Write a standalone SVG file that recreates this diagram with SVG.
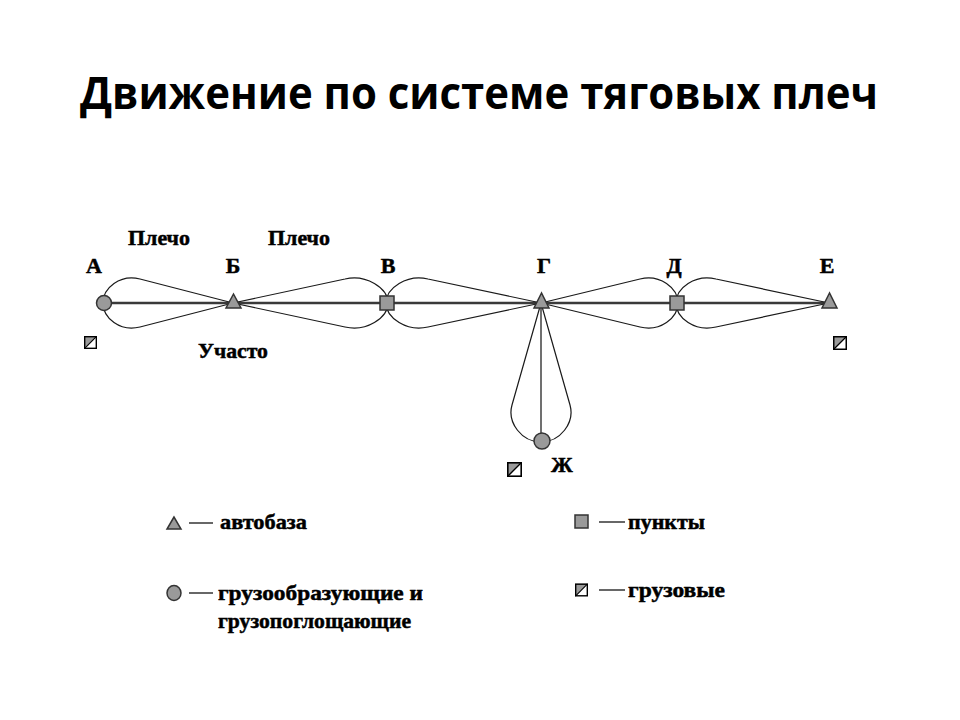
<svg xmlns="http://www.w3.org/2000/svg" xmlns:xlink="http://www.w3.org/1999/xlink" width="960" height="720" viewBox="0 0 960 720">
<style>
.title{font-family:"Open Sans","Noto Sans",sans-serif;font-weight:bold;font-size:45px;fill:#000}
.lbl{font-family:"Liberation Serif","DejaVu Serif",serif;font-weight:bold;font-size:22px;fill:#000;stroke:#000;stroke-width:0.5}
.leg{font-family:"Liberation Serif","DejaVu Serif",serif;font-weight:bold;font-size:22px;fill:#000;stroke:#000;stroke-width:0.5}
.main{stroke:#3a3a3a;stroke-width:2.5;fill:none}
.spur{stroke:#707070;stroke-width:2;fill:none}
.loop{stroke:#1a1a1a;stroke-width:1.2;fill:none}
.node{fill:#9a9a9a;stroke:#333;stroke-width:1.5}
.dash{stroke:#000;stroke-width:1.2}
</style>
<defs>
<symbol id="cargo" viewBox="0 0 14 14">
<rect x="0" y="0" width="14" height="14" fill="#fff"/>
<polygon points="0,0 14,0 0,14" fill="#9a9a9a"/>
<line x1="0.5" y1="13.5" x2="13.5" y2="0.5" stroke="#000" stroke-width="1.2"/>
<rect x="0.75" y="0.75" width="12.5" height="12.5" fill="none" stroke="#000" stroke-width="1.5"/>
</symbol>
</defs>
<rect width="960" height="720" fill="#fff"/>
<text class="title" x="80" y="109" textLength="798" lengthAdjust="spacingAndGlyphs">Движение по системе тяговых плеч</text>

<g id="connectors">
<line class="main" x1="104" y1="303" x2="829" y2="303"/>
<line class="spur" x1="541" y1="303" x2="541" y2="441"/>
<path class="loop" d="M233,303 L140,279 C120,274 103,288 103,303 C103,318 120,332 140,327 Z"/>
<path class="loop" d="M233,303 L345,279 C366,274 388,288 388,303 C388,318 366,332 345,327 Z"/>
<path class="loop" d="M541,303 L428,279 C407,274 386,288 386,303 C386,318 407,332 428,327 Z"/>
<path class="loop" d="M541,303 L640,279 C660,274 678,288 678,303 C678,318 660,332 640,327 Z"/>
<path class="loop" d="M829,303 L716,279 C695,274 676,288 676,303 C676,318 695,332 716,327 Z"/>
<path class="loop" d="M541,303 L512,405 C507,423 522,442 541,442 C560,442 575,423 570,405 Z"/>
</g>

<g id="node-A"><circle class="node" cx="104" cy="303" r="7.5"/><text class="lbl" x="94" y="273" text-anchor="middle">А</text><use xlink:href="#cargo" x="84" y="336" width="13" height="13"/></g>
<g id="node-B"><polygon class="node" points="233.5,294 226,308 241,308"/><text class="lbl" x="233" y="273" text-anchor="middle">Б</text></g>
<g id="node-V"><rect class="node" x="380" y="296" width="14" height="14"/><text class="lbl" x="388" y="273" text-anchor="middle">В</text></g>
<g id="node-G"><polygon class="node" points="541.5,293 534,308 549,308"/><text class="lbl" x="544" y="273" text-anchor="middle">Г</text></g>
<g id="node-D"><rect class="node" x="670" y="296" width="14" height="14"/><text class="lbl" x="674" y="273" text-anchor="middle">Д</text></g>
<g id="node-E"><polygon class="node" points="829.5,293 822,308 837,308"/><text class="lbl" x="827" y="273" text-anchor="middle">Е</text><use xlink:href="#cargo" x="833" y="336" width="14" height="14"/></g>
<g id="node-Zh"><circle class="node" cx="542" cy="441" r="8"/><text class="lbl" x="562" y="472" text-anchor="middle">Ж</text><use xlink:href="#cargo" x="507" y="462" width="15" height="15"/></g>

<g id="labels">
<text class="lbl" x="128" y="245" textLength="62" lengthAdjust="spacingAndGlyphs">Плечо</text>
<text class="lbl" x="268" y="245" textLength="62" lengthAdjust="spacingAndGlyphs">Плечо</text>
<text class="lbl" x="198" y="358" textLength="70" lengthAdjust="spacingAndGlyphs">Участо</text>
</g>

<g id="legend">
<g id="leg-autobase"><polygon class="node" points="174,517 167,529 181,529"/><line class="dash" x1="189" y1="523" x2="213" y2="523"/><text class="leg" x="220" y="529" textLength="87" lengthAdjust="spacingAndGlyphs">автобаза</text></g>
<g id="leg-points"><rect class="node" x="575" y="515" width="13" height="13"/><line class="dash" x1="599" y1="522" x2="625" y2="522"/><text class="leg" x="628" y="529" textLength="77" lengthAdjust="spacingAndGlyphs">пункты</text></g>
<g id="leg-gen"><ellipse class="node" cx="174" cy="593" rx="7" ry="7.5"/><line class="dash" x1="189" y1="593" x2="213" y2="593"/><text class="leg" x="218" y="600" textLength="205" lengthAdjust="spacingAndGlyphs">грузообразующие  и</text><text class="leg" x="218" y="628" textLength="193" lengthAdjust="spacingAndGlyphs">грузопоглощающие</text></g>
<g id="leg-cargo"><use xlink:href="#cargo" x="575" y="583" width="13" height="14"/><line class="dash" x1="599" y1="590" x2="625" y2="590"/><text class="leg" x="628" y="597" textLength="97" lengthAdjust="spacingAndGlyphs">грузовые</text></g>
</g>
</svg>
